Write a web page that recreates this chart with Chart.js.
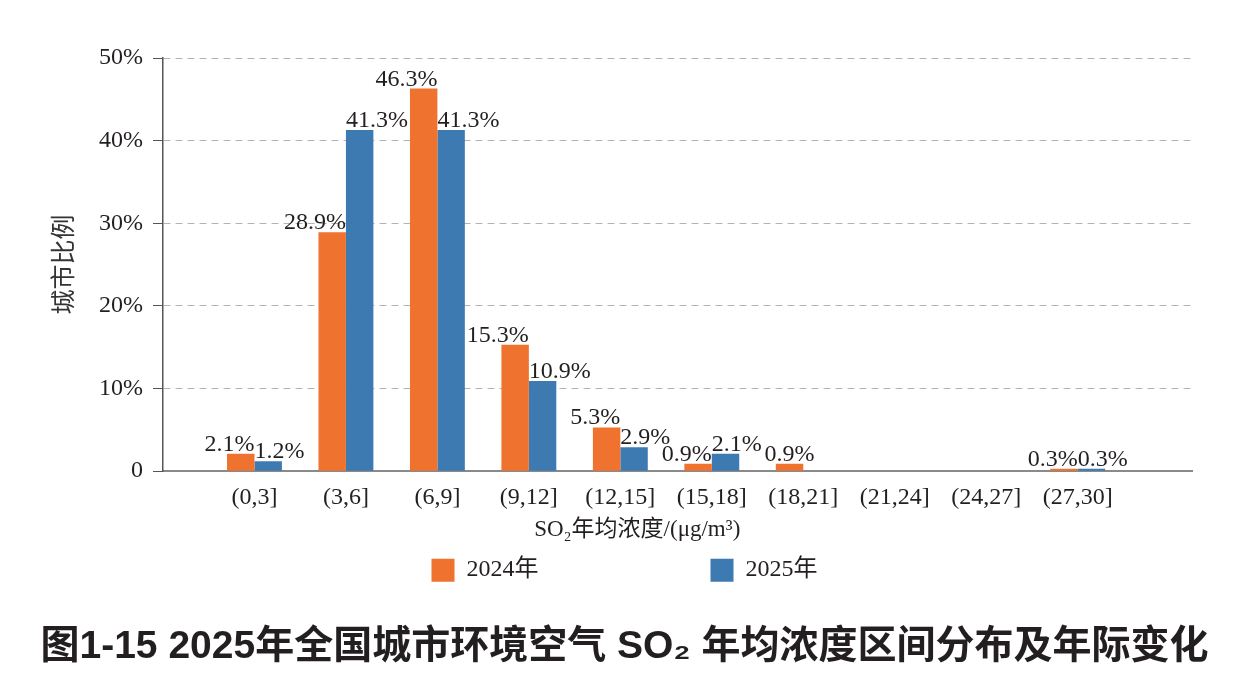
<!DOCTYPE html>
<html>
<head>
<meta charset="utf-8">
<script src="https://cdn.jsdelivr.net/npm/chart.js@4"></script>
<style>
  body { margin: 0; background: #fff; }
</style>
</head>
<body>
<canvas id="chart" width="1249" height="689"></canvas>
<script>
// SO2 annual concentration bins
const categories = ['(0,3]', '(3,6]', '(6,9]', '(9,12]', '(12,15]', '(15,18]', '(18,21]', '(21,24]', '(24,27]', '(27,30]'];
const values2024 = [2.1, 28.9, 46.3, 15.3, 5.3, 0.9, 0.9, null, null, 0.3];
const values2025 = [1.2, 41.3, 41.3, 10.9, 2.9, 2.1, null, null, null, 0.3];
const yTicks = [0, 10, 20, 30, 40, 50];

const serif = '"Liberation Serif", "Noto Sans CJK SC", serif';
const textColor = '#231f20';

// value labels: 2024 label ends at bar's right edge, 2025 label starts at bar's left edge
const barLabels = {
    id: 'barLabels',
    afterDatasetsDraw(chart) {
        const ctx = chart.ctx;
        ctx.save();
        ctx.font = '24px ' + serif;
        ctx.fillStyle = textColor;
        ctx.textBaseline = 'alphabetic';
        chart.data.datasets.forEach((ds, di) => {
            const meta = chart.getDatasetMeta(di);
            const other = chart.data.datasets[1 - di].data;
            meta.data.forEach((bar, i) => {
                const v = ds.data[i].y;
                if (v == null) return;
                let x = bar.x;
                ctx.textAlign = 'center';
                if (other[i].y != null) {
                    if (di === 0) {
                        ctx.textAlign = 'right';
                        x = bar.x + bar.width / 2;
                    } else {
                        ctx.textAlign = 'left';
                        x = bar.x - bar.width / 2;
                    }
                }
                ctx.fillText(v.toFixed(1) + '%', x, bar.y - 3);
            });
        });
        ctx.restore();
    }
};

let datas = {
    datasets: [
        {
            label: '2024年',
            backgroundColor: 'rgb(239,114,46)',
            data: values2024.map((v, i) => ({x: i, y: v})),
        },
        {
            label: '2025年',
            backgroundColor: 'rgb(62,122,178)',
            data: values2025.map((v, i) => ({x: i, y: v})),
        },
    ],
};

let config = {
    type: 'bar',
    data: datas,
    plugins: [barLabels],
    options: {
        responsive: false,
        animation: false,
        categoryPercentage: 0.6,
        barPercentage: 1,
        layout: { padding: { top: 58, left: 0, right: 0, bottom: 0 } },
        scales: {
            x: {
                type: 'linear',
                bounds: 'data',
                offset: false,
                min: -1,
                max: 10.25,
                afterBuildTicks: (scale) => {
                    scale.ticks = categories.map((_, i) => ({value: i}));
                },
                afterFit: (scale) => { scale.height = 77; },
                grid: { display: false, drawTicks: false },
                border: { color: '#8a8a8a', width: 2 },
                ticks: {
                    autoSkip: false,
                    maxRotation: 0,
                    padding: 12,
                    color: textColor,
                    font: { family: serif, size: 24 },
                    callback: (value) => categories[value] ?? '',
                },
                title: {
                    display: true,
                    text: 'SO₂年均浓度/(μg/m³)' + ' '.repeat(14),
                    color: textColor,
                    font: { family: serif, size: 23 },
                    padding: { top: 0, bottom: 4 },
                },
            },
            y: {
                min: 0,
                max: 50,
                afterFit: (scale) => { scale.width = 163; },
                afterBuildTicks: (scale) => {
                    scale.ticks = yTicks.map(v => ({value: v}));
                },
                grid: {
                    color: (c) => c.tick && c.tick.value === 0 ? 'rgba(0,0,0,0)' : '#b4b4b4',
                    tickColor: '#555',
                    tickLength: 10,
                    tickBorderDash: [],
                },
                border: { color: '#555', width: 1.5, dash: [7, 5] },
                ticks: {
                    padding: 10,
                    color: textColor,
                    font: { family: serif, size: 24 },
                    callback: (v) => v === 0 ? '0' : v + '%',
                },
                title: {
                    display: true,
                    text: '城市比例',
                    color: '#333',
                    font: { family: '"Noto Sans CJK SC", sans-serif', size: 25 },
                    padding: { top: 47, bottom: 0 },
                },
            },
            y2: {
                position: 'right',
                display: true,
                afterFit: (scale) => { scale.width = 57; },
                grid: { display: false },
                border: { display: false },
                ticks: { display: false },
            },
        },
        plugins: {
            tooltip: { enabled: false },
            legend: {
                position: 'bottom',
                labels: {
                    boxWidth: 23,
                    boxHeight: 23,
                    padding: 10,
                    color: textColor,
                    font: { family: serif, size: 24 },
                    generateLabels: (chart) => {
                        let items = Chart.defaults.plugins.legend.labels.generateLabels(chart);
                        items[0].text += ' '.repeat(27);
                        return items;
                    },
                },
            },
            title: {
                display: true,
                position: 'bottom',
                text: '图1-15 2025年全国城市环境空气 SO₂ 年均浓度区间分布及年际变化',
                color: textColor,
                font: { family: '"Liberation Sans", "Noto Sans CJK SC", sans-serif', size: 39, weight: 'bold' },
                padding: { top: 32, bottom: 18 },
            },
        },
    },
};

let canvas = document.getElementById('chart');
let chart = new Chart(canvas, config);
</script>
</body>
</html>
